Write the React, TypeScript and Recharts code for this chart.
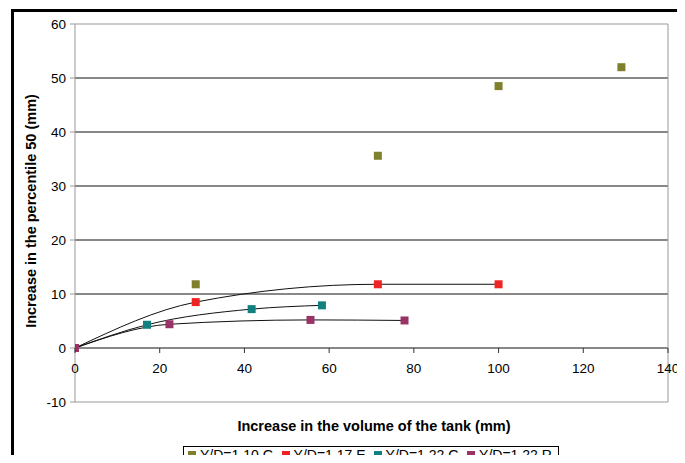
import React from "react";
import {
  ComposedChart, Line, Scatter, XAxis, YAxis, ReferenceLine,
} from "recharts";

// values
const olive = [
  { x: 0, y: 0 }, { x: 28.5, y: 11.8 }, { x: 71.5, y: 35.6 }, { x: 100, y: 48.5 }, { x: 129, y: 52.0 },
];
const red = [
  { x: 0, y: 0 }, { x: 28.5, y: 8.5 }, { x: 71.5, y: 11.8 }, { x: 100, y: 11.8 },
];
const teal = [
  { x: 0, y: 0 }, { x: 17, y: 4.3 }, { x: 41.7, y: 7.2 }, { x: 58.3, y: 7.9 },
];
const purple = [
  { x: 0, y: 0 }, { x: 22.3, y: 4.4 }, { x: 55.6, y: 5.2 }, { x: 77.8, y: 5.1 },
];

const xTicks = [0, 20, 40, 60, 80, 100, 120, 140];
const yTicks = [-10, 0, 10, 20, 30, 40, 50, 60];
const innerGrid = [0, 10, 20, 30, 40, 50];

const series = [
  { name: "Y/D=1.10 G", color: "#7f7f2c", data: olive },
  { name: "Y/D=1.17 E", color: "#ee2424", data: red },
  { name: "Y/D=1.22 G", color: "#138080", data: teal },
  { name: "Y/D=1.22 R", color: "#993366", data: purple },
];

const FONT = "'Liberation Sans', Arial, sans-serif";
const W = 677;
const H = 455;
const M = { top: 16, right: 17, left: 0, bottom: 41 };
const PLOT_H = 378;
const ZERO_Y = M.top + (PLOT_H * 60) / 70;

const XTick = ({ x, payload }: { x?: number; payload?: { value: number } }) => (
  <g>
    <line x1={x} x2={x} y1={ZERO_Y} y2={ZERO_Y + 5} stroke="#333" />
    <text x={x} y={ZERO_Y + 25} textAnchor="middle" fontSize={13.5} fontFamily={FONT} fill="#000">
      {payload?.value}
    </text>
  </g>
);

const square = (color: string) => (p: { cx?: number; cy?: number }) => (
  <rect x={(p.cx ?? 0) - 4} y={(p.cy ?? 0) - 4} width={8} height={8} fill={color} />
);

export default function App() {
  return (
    <div style={{
      position: "relative", width: W, height: H, marginBottom: -8,
      overflow: "hidden", fontFamily: FONT,
    }}>
      <style>{"html,body{overflow:hidden}"}</style>
      <div style={{
        position: "absolute", left: 3, top: 1, right: 0, bottom: 0,
        borderLeft: "3px solid #000", borderTop: "3px solid #000",
      }} />
      <div style={{ position: "absolute", left: 0, top: 0 }}>
        <ComposedChart width={W} height={H} margin={M}>
          <XAxis
            type="number" dataKey="x" domain={[0, 140]} ticks={xTicks} interval={0}
            axisLine={false} tickLine={false} tick={<XTick />} height={20} allowDataOverflow
          />
          <YAxis
            type="number" dataKey="y" domain={[-10, 60]} ticks={yTicks} interval={0} width={67}
            axisLine={{ stroke: "#999" }} tickLine={{ stroke: "#999" }} tickSize={5} tickMargin={4}
            tick={{ fill: "#000", fontSize: 13.5, fontFamily: FONT }}
          />
          {innerGrid.map((v) => (
            <ReferenceLine key={v} y={v} stroke="#111" strokeWidth={1} />
          ))}
          <ReferenceLine y={60} stroke="#999" />
          <ReferenceLine y={-10} stroke="#999" />
          <ReferenceLine x={140} stroke="#999" />
          <Line data={red} dataKey="y" type="monotone" stroke="#111" strokeWidth={1} dot={false} isAnimationActive={false} />
          <Line data={teal} dataKey="y" type="monotone" stroke="#111" strokeWidth={1} dot={false} isAnimationActive={false} />
          <Line data={purple} dataKey="y" type="monotone" stroke="#111" strokeWidth={1} dot={false} isAnimationActive={false} />
          {series.map((s) => (
            <Scatter key={s.name} name={s.name} data={s.data} dataKey="y" shape={square(s.color)} isAnimationActive={false} />
          ))}
        </ComposedChart>
      </div>
      <svg style={{ position: "absolute", left: 0, top: 0 }} width={W} height={H}>
        <text
          x={28} y={203} transform="rotate(-90 28 203)" textAnchor="middle"
          fontSize={14.5} fontWeight="bold" fontFamily={FONT} fill="#000"
        >
          Increase in the percentile 50 (mm)
        </text>
        <text x={366} y={423} textAnchor="middle" fontSize={14.5} fontWeight="bold" fontFamily={FONT} fill="#000">
          Increase in the volume of the tank (mm)
        </text>
      </svg>
      <div style={{
        position: "absolute", left: 175, top: 438, height: 17,
        borderLeft: "1px solid #000", borderTop: "1px solid #000", borderRight: "1px solid #000",
        background: "#fff", display: "flex", alignItems: "flex-start", padding: "1px 6px 0 4px",
        fontSize: 14, lineHeight: "14px", whiteSpace: "nowrap", boxSizing: "border-box",
      }}>
        {series.map((s, i) => (
          <span key={s.name} style={{ display: "flex", alignItems: "center", height: 14, marginLeft: i ? 8 : 0 }}>
            <span style={{ width: 8, height: 8, background: s.color, marginRight: 4, display: "inline-block" }} />
            {s.name}
          </span>
        ))}
      </div>
    </div>
  );
}
